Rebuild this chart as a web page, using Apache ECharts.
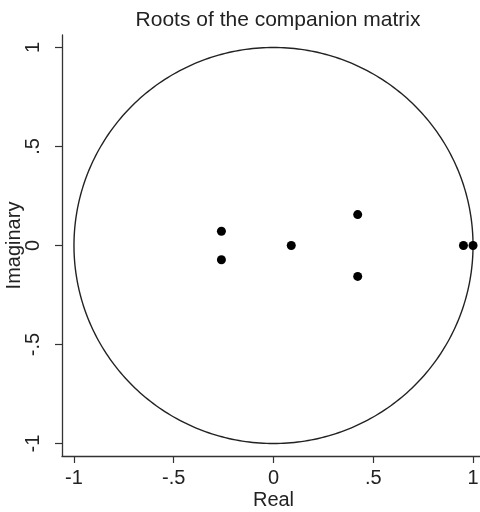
<!DOCTYPE html>
<html>
<head>
<meta charset="utf-8">
<script src="https://cdn.jsdelivr.net/npm/echarts@6/dist/echarts.min.js"></script>
<style>
html,body{margin:0;padding:0;background:#fff;}
#chart{width:480px;height:512px;}
</style>
</head>
<body>
<div id="chart"></div>
<script>
var realParts = [-0.261, -0.261, 0.089, 0.422, 0.422, 0.952, 1.0];
var imagParts = [0.072, -0.072, 0, 0.156, -0.156, 0, 0];
var tickValues = [-1, -0.5, 0, 0.5, 1];
var tickLabels = ['-1', '-.5', '0', '.5', '1'];
var titleText = 'Roots of the companion matrix';
var xTitle = 'Real';
var yTitle = 'Imaginary';

function fmt(v) {
  for (var i = 0; i < tickValues.length; i++) {
    if (Math.abs(v - tickValues[i]) < 1e-9) return tickLabels[i];
  }
  return '';
}
var roots = realParts.map(function (r, i) { return [r, imagParts[i]]; });

var chart = echarts.init(document.getElementById('chart'), null, {renderer: 'canvas'});
var axisColor = '#333';
var font = 'Liberation Sans, Arial, sans-serif';
chart.setOption({
  animation: false,
  backgroundColor: '#fff',
  title: {
    text: titleText,
    left: 273, top: 5, textAlign: 'center',
    textStyle: {fontFamily: font, fontSize: 21, fontWeight: 'normal', color: '#222'}
  },
  grid: {left: 62, top: 35, width: 423, height: 421, containLabel: false, outerBoundsMode: 'none'},
  xAxis: {
    type: 'value', min: -1.06, max: 1.06,
    splitLine: {show: false},
    axisLine: {show: true, onZero: false, lineStyle: {color: axisColor, width: 1.3}},
    axisTick: {show: true, length: 7, lineStyle: {color: axisColor, width: 1.2},
      customValues: tickValues},
    axisLabel: {show: true, margin: 12, fontFamily: font, fontSize: 20, color: '#222',
      customValues: tickValues, formatter: fmt},
    name: xTitle, nameLocation: 'middle', nameGap: 34, nameMoveOverlap: false,
    nameTextStyle: {fontFamily: font, fontSize: 20, color: '#222'}
  },
  yAxis: {
    type: 'value', min: -1.063, max: 1.063,
    splitLine: {show: false},
    axisLine: {show: true, onZero: false, lineStyle: {color: axisColor, width: 1.3}},
    axisTick: {show: true, length: 7, lineStyle: {color: axisColor, width: 1.2},
      customValues: tickValues},
    axisLabel: {show: true, margin: 19, rotate: 90, fontFamily: font, fontSize: 20, color: '#222',
      customValues: tickValues, formatter: fmt},
    name: yTitle, nameLocation: 'middle', nameGap: 38, nameRotate: 90, nameMoveOverlap: false,
    nameTextStyle: {fontFamily: font, fontSize: 20, color: '#222'}
  },
  series: [
    {
      type: 'custom',
      silent: true,
      clip: false,
      data: [[0, 0]],
      renderItem: function (params, api) {
        var pts = [];
        for (var k = 0; k <= 360; k++) {
          var a = k * Math.PI / 180;
          pts.push(api.coord([Math.cos(a), Math.sin(a)]));
        }
        return {
          type: 'polyline',
          shape: {points: pts},
          style: {stroke: '#222', lineWidth: 1.4, fill: null}
        };
      },
      z: 1
    },
    {
      type: 'scatter',
      data: roots,
      symbol: 'circle',
      symbolSize: 9,
      itemStyle: {color: '#000', opacity: 1},
      z: 3
    }
  ]
});
</script>
</body>
</html>
